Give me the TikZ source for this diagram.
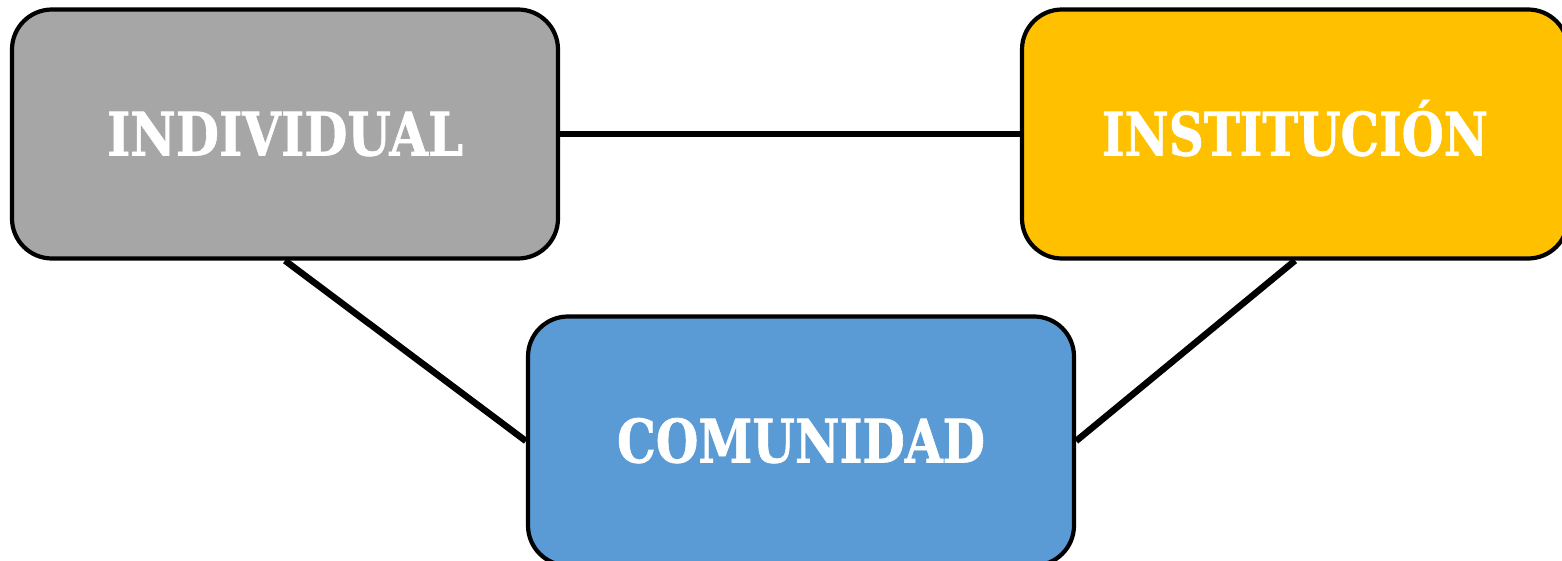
\documentclass[tikz,border=0pt]{standalone}
\usepackage{fontspec}
\newfontfamily\boxfont{DejaVu Serif}[FakeBold=1.2]
\newcommand{\boxtxt}[2]{\resizebox{#1}{\height}{\boxfont\bfseries\fontsize{60}{62}\selectfont #2}}
\definecolor{cgray}{HTML}{A6A6A6}
\definecolor{cgold}{HTML}{FFC000}
\definecolor{cblue}{HTML}{5B9BD5}
\tikzset{
  boxnode/.style={draw=black, line width=4.2pt, rounded corners=40pt,
    minimum width=546pt, minimum height=249pt, inner sep=0pt,
    text height=43pt, text depth=0pt, text=white},
  link/.style={draw=black, line width=6.5pt}
}
\begin{document}
\begin{tikzpicture}[x=1pt,y=-1pt]
\useasboundingbox (0,0) rectangle (1562,561);
\clip (0,0) rectangle (1562,561);
\node[boxnode, fill=cgray] (ind) at (285,134) {\boxtxt{356pt}{INDIVIDUAL}};
\node[boxnode, fill=cgold] (inst) at (1295,134) {\boxtxt{386pt}{INSTITUCIÓN}};
\node[boxnode, fill=cblue] (com) at (801,441) {\boxtxt{368pt}{COMUNIDAD}};
\draw[link] (ind.east) -- (inst.west);
\draw[link] (ind.south) -- (com.west);
\draw[link] (inst.south) -- (com.east);
\end{tikzpicture}
\end{document}
